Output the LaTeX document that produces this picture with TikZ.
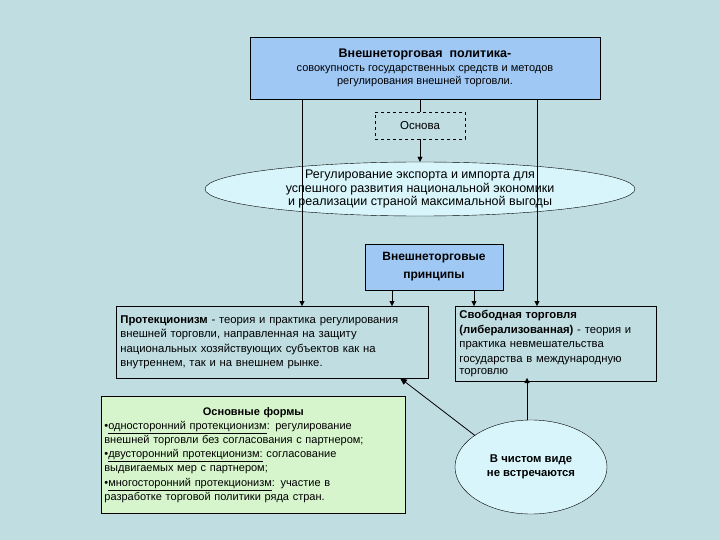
\documentclass[tikz,border=0pt]{standalone}
\usepackage{fontspec}
\setmainfont{Liberation Sans}
\usetikzlibrary{shapes.geometric,arrows.meta}
\definecolor{bg}{RGB}{192,221,226}
\definecolor{topblue}{RGB}{160,200,245}
\definecolor{ellc}{RGB}{215,245,250}
\definecolor{greenc}{RGB}{215,245,205}
\begin{document}
\begin{tikzpicture}[x=1pt,y=-1pt,
  arr/.style={-{Triangle[length=5pt,width=5pt]},thin}]
\fill[bg] (0,0) rectangle (720,540);
\useasboundingbox (0,0) rectangle (720,540);
\node[draw,thick,fill=topblue,minimum width=350pt,minimum height=62pt,align=center,font=\fontsize{11}{13}\selectfont] (top) at (425,68)
 {{\fontsize{12.5}{15}\selectfont\bfseries Внешнеторговая\ \ политика-}\\[1pt]совокупность государственных средств и методов\\регулирования внешней торговли.};
\node[draw,dashed,minimum width=90pt,minimum height=27pt,font=\fontsize{11.5}{12}\selectfont] (osn) at (420,125.5) {Основа};
\node[draw,ellipse,fill=ellc,minimum width=430pt,minimum height=53pt,inner sep=0pt,align=center,font=\fontsize{12.5}{13.5}\selectfont] (ell) at (420,189)
 {Регулирование экспорта и импорта для\\успешного развития национальной экономики\\и реализации страной максимальной выгоды};
\node[draw,thick,fill=topblue,minimum width=138pt,minimum height=46pt,align=center,font=\fontsize{12}{18}\selectfont\bfseries] (pr) at (434,267) {Внешнеторговые\\принципы};
\node[draw,thick,minimum width=312pt,minimum height=72pt,text width=304pt,align=left,anchor=north west,inner sep=4pt,font=\fontsize{11.3}{14.5}\selectfont] (prot) at (116,306)
 {\textbf{Протекционизм} - теория и практика регулирования\\внешней торговли, направленная на защиту\\национальных хозяйствующих субъектов как на\\внутреннем, так и на внешнем рынке.\\[-2pt]};
\node[draw,thick,minimum width=199pt,minimum height=72pt,text width=193pt,align=left,anchor=north west,inner sep=4pt,font=\fontsize{11.3}{14.5}\selectfont] (free) at (455,306)
 {\textbf{Свободная торговля}\\\textbf{(либерализованная)} - теория и\\практика невмешательства\\государства в международную\\[-2pt]торговлю};
\node[draw,thick,fill=greenc,minimum width=304pt,minimum height=117pt,text width=298pt,align=left,anchor=north west,inner sep=3pt,font=\fontsize{11}{14.2}\selectfont] (forms) at (101,396)
 {\centerline{\textbf{Основные формы}}\\
 •\underline{односторонний протекционизм}: регулирование\\внешней торговли без согласования с партнером;\\
 •\underline{двусторонний протекционизм:} согласование\\выдвигаемых мер с партнером;\\
 •\underline{многосторонний протекционизм}: участие в\\разработке торговой политики ряда стран.};
\node[draw,ellipse,fill=ellc,minimum width=152pt,minimum height=94pt,inner sep=0pt,align=center,font=\fontsize{11.3}{14}\selectfont\bfseries] (circ) at (531,467) {В чистом виде\\не встречаются};
\draw[thin] (osn.north) -- (osn.north |- top.south);
\draw[arr] (osn.south) -- (ell.north);
\coordinate (l1) at (302,99); \coordinate (r1) at (537,99);
\draw[arr] (l1) -- (l1 |- prot.north);
\draw[arr] (r1) -- (r1 |- free.north);
\draw[arr] (pr.south -| 392,0) -- (392,306);
\draw[arr] (pr.south -| 474,0) -- (474,306);
\draw[-{Triangle[length=7pt,width=6pt]},thick] (circ.north west) ++(-2,2) coordinate (cw) (cw) -- (400,378);
\draw[arr] (circ.north -| 527,0) -- (527,378);
\end{tikzpicture}
\end{document}
